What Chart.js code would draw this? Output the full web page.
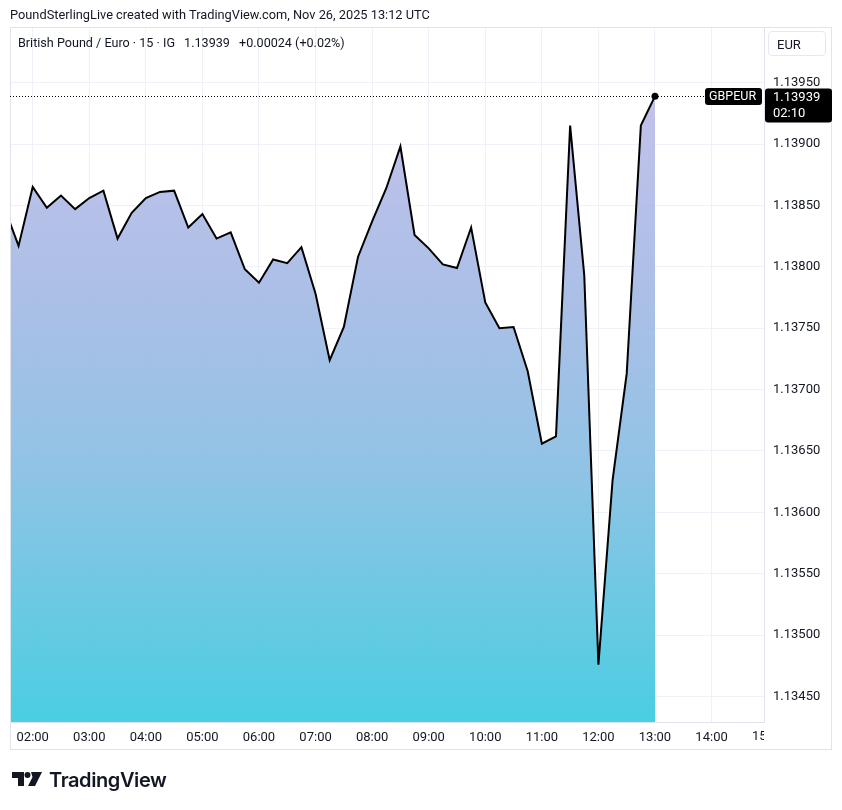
<!DOCTYPE html>
<html>
<head>
<meta charset="utf-8">
<script src="https://cdn.jsdelivr.net/npm/chart.js@4.4.1/dist/chart.umd.min.js"></script>
<style>
  html, body { margin: 0; padding: 0; background: #fff; }
  body { width: 842px; height: 810px; position: relative; overflow: hidden; font-family: Roboto, "Noto Sans", sans-serif; color: #131722; }
  #chart { position: absolute; left: 0; top: 0; }
  #header { position: absolute; left: 10px; top: 7px; font-size: 12.8px; white-space: nowrap; }
  #legend { position: absolute; left: 18px; top: 35px; font-size: 12.6px; white-space: nowrap; }
  #legend .val { margin-left: 6px; }
  #currency { position: absolute; left: 768px; top: 31px; width: 58px; height: 25px; border: 1px solid #e6e8ee; border-radius: 4px; font-size: 13px; line-height: 25px; box-sizing: border-box; padding-left: 8px; }
  #logo { position: absolute; left: 12px; top: 768px; height: 24px; display: flex; align-items: center; }
  #logo span { font-family: Inter, Roboto, sans-serif; font-weight: 600; font-size: 20px; letter-spacing: -0.4px; margin-left: 5px; color: #131722; }
</style>
</head>
<body>
<canvas id="chart" width="842" height="810"></canvas>
<div id="header">PoundSterlingLive created with TradingView.com, Nov 26, 2025 13:12 UTC</div>
<div id="legend">British Pound / Euro · 15 · IG <span class="val">1.13939</span> <span class="val">+0.00024 (+0.02%)</span></div>
<div id="currency">EUR</div>
<div id="logo">
  <svg width="32" height="16" viewBox="0 0 32 16">
    <path d="M0 0h12v14H6V6H0z" fill="#131722"/>
    <circle cx="15.5" cy="3" r="3" fill="#131722"/>
    <path d="M19 0h11l-7 14h-7l4.5-9z" fill="#131722"/>
  </svg>
  <span>TradingView</span>
</div>
<script>
// 15 minute bars, GBP/EUR (IG), Nov 26 2025
var times = ["01:30", "01:45", "02:00", "02:15", "02:30", "02:45", "03:00", "03:15",
  "03:30", "03:45", "04:00", "04:15", "04:30", "04:45", "05:00", "05:15",
  "05:30", "05:45", "06:00", "06:15", "06:30", "06:45", "07:00", "07:15",
  "07:30", "07:45", "08:00", "08:15", "08:30", "08:45", "09:00", "09:15",
  "09:30", "09:45", "10:00", "10:15", "10:30", "10:45", "11:00", "11:15",
  "11:30", "11:45", "12:00", "12:15", "12:30", "12:45", "13:00"];
var prices = [1.13848, 1.13817, 1.13865, 1.13848, 1.13858, 1.13847, 1.13856, 1.13862,
  1.13823, 1.13844, 1.13856, 1.13861, 1.13862, 1.13832, 1.13843, 1.13823,
  1.13828, 1.13798, 1.13787, 1.13806, 1.13803, 1.13816, 1.13778, 1.13724,
  1.13751, 1.13808, 1.13837, 1.13864, 1.13898, 1.13826, 1.13815, 1.13802,
  1.13799, 1.13832, 1.13771, 1.13750, 1.13751, 1.13715, 1.13656, 1.13662,
  1.13915, 1.13793, 1.13476, 1.13626, 1.13713, 1.13915, 1.13939];
var symbol = "GBPEUR";
var lastPrice = "1.13939";
var countdown = "02:10";
var extraHourLabel = 15; // partly hidden label at the right edge

const GRID = "#eef1f8";
const BORDER = "#e0e3eb";
const TEXT = "#131722";
const FONT = "Roboto, 'Noto Sans', sans-serif";

function toHours(t) {
  var p = t.split(":");
  return parseInt(p[0], 10) + parseInt(p[1], 10) / 60;
}

var points = times.map(function (t, i) {
  return { x: toHours(t), y: prices[i] };
});

function pad(n) {
  return (n < 10 ? "0" : "") + n;
}

function roundRect(ctx, x, y, w, h, r) {
  ctx.beginPath();
  ctx.moveTo(x + r, y);
  ctx.lineTo(x + w - r, y);
  ctx.quadraticCurveTo(x + w, y, x + w, y + r);
  ctx.lineTo(x + w, y + h - r);
  ctx.quadraticCurveTo(x + w, y + h, x + w - r, y + h);
  ctx.lineTo(x + r, y + h);
  ctx.quadraticCurveTo(x, y + h, x, y + h - r);
  ctx.lineTo(x, y + r);
  ctx.quadraticCurveTo(x, y, x + r, y);
  ctx.closePath();
}

// frame, price line, tags and the clipped hour label
var decorPlugin = {
  id: "decor",
  afterDraw: function (chart) {
    var ctx = chart.ctx;
    var area = chart.chartArea;
    var xs = chart.scales.x;
    var ys = chart.scales.y;
    var last = points[points.length - 1];
    var py = Math.round(ys.getPixelForValue(last.y)) + 0.5;
    var tagLeft = 705;

    ctx.save();
    // outer frame
    ctx.strokeStyle = BORDER;
    ctx.lineWidth = 1;
    ctx.strokeRect(area.left + 0.5, area.top + 0.5, 831 - area.left, xs.bottom - area.top);

    // dotted price line
    ctx.strokeStyle = "#000";
    ctx.setLineDash([1, 2]);
    ctx.beginPath();
    ctx.moveTo(area.left, py);
    ctx.lineTo(tagLeft, py);
    ctx.stroke();
    ctx.setLineDash([]);

    // symbol tag
    ctx.fillStyle = "#000";
    roundRect(ctx, tagLeft, py - 8.5, area.right - 2 - tagLeft, 17, 3);
    ctx.fill();
    ctx.fillStyle = "#fff";
    ctx.font = "12.5px " + FONT;
    ctx.textBaseline = "middle";
    ctx.textAlign = "left";
    ctx.fillText(symbol, tagLeft + 4, py + 0.5);

    // price tag on the axis
    ctx.fillStyle = "#000";
    roundRect(ctx, area.right + 1, py - 8, 67, 34, 3);
    ctx.fill();
    ctx.fillStyle = "#fff";
    ctx.font = "13px " + FONT;
    ctx.fillText(lastPrice, area.right + 9, py + 1);
    ctx.fillText(countdown, area.right + 9, py + 17);

    // partly hidden hour label at the right edge
    ctx.beginPath();
    ctx.rect(area.left, xs.top, area.right - area.left, xs.bottom - xs.top);
    ctx.clip();
    ctx.fillStyle = TEXT;
    ctx.textAlign = "center";
    ctx.font = "13px " + FONT;
    ctx.fillText(pad(extraHourLabel) + ":00", xs.getPixelForValue(extraHourLabel), xs.top + 15);
    ctx.restore();
  }
};

var ctx = document.getElementById("chart").getContext("2d");
var myChart = new Chart(ctx, {
  type: "line",
  data: {
    datasets: [{
      label: symbol,
      data: points,
      borderColor: "#000",
      borderWidth: 2,
      tension: 0,
      fill: "start",
      clip: { left: 0, top: 5, right: 5, bottom: 0 },
      backgroundColor: function (context) {
        var chart = context.chart;
        var area = chart.chartArea;
        if (!area) return "rgba(150,190,230,0.9)";
        var g = chart.ctx.createLinearGradient(0, area.top + 65, 0, area.bottom);
        g.addColorStop(0, "rgba(190,188,233,0.92)");
        g.addColorStop(0.35, "rgba(162,186,228,0.92)");
        g.addColorStop(0.6, "rgba(135,190,227,0.92)");
        g.addColorStop(1, "rgba(59,202,223,0.92)");
        return g;
      },
      pointRadius: function (c) {
        return c.dataIndex === points.length - 1 ? 3.5 : 0;
      },
      pointBackgroundColor: "#000",
      pointBorderWidth: 0,
      pointHoverRadius: 0
    }]
  },
  options: {
    responsive: false,
    animation: false,
    devicePixelRatio: 1,
    layout: { padding: { left: 10, top: 27, right: 11, bottom: 61 } },
    plugins: {
      legend: { display: false },
      tooltip: { enabled: false }
    },
    scales: {
      x: {
        type: "linear",
        min: 1.5987,
        max: 14.927,
        grid: { color: GRID, drawTicks: false },
        border: { color: BORDER },
        ticks: {
          stepSize: 1,
          includeBounds: false,
          maxTicksLimit: 20,
          autoSkip: false,
          maxRotation: 0,
          padding: 8,
          color: TEXT,
          font: { family: FONT, size: 13 },
          callback: function (v) { return pad(v) + ":00"; }
        },
        afterFit: function (scale) { scale.height = 27; }
      },
      y: {
        type: "linear",
        position: "right",
        min: 1.134293,
        max: 1.139953,
        grid: { color: GRID, drawTicks: false },
        border: { color: BORDER },
        ticks: {
          stepSize: 0.0005,
          includeBounds: false,
          maxTicksLimit: 20,
          padding: 9,
          color: TEXT,
          font: { family: FONT, size: 13 },
          callback: function (v) { return v.toFixed(5); }
        },
        afterFit: function (scale) { scale.width = 67; }
      }
    }
  },
  plugins: [decorPlugin]
});
</script>
</body>
</html>
